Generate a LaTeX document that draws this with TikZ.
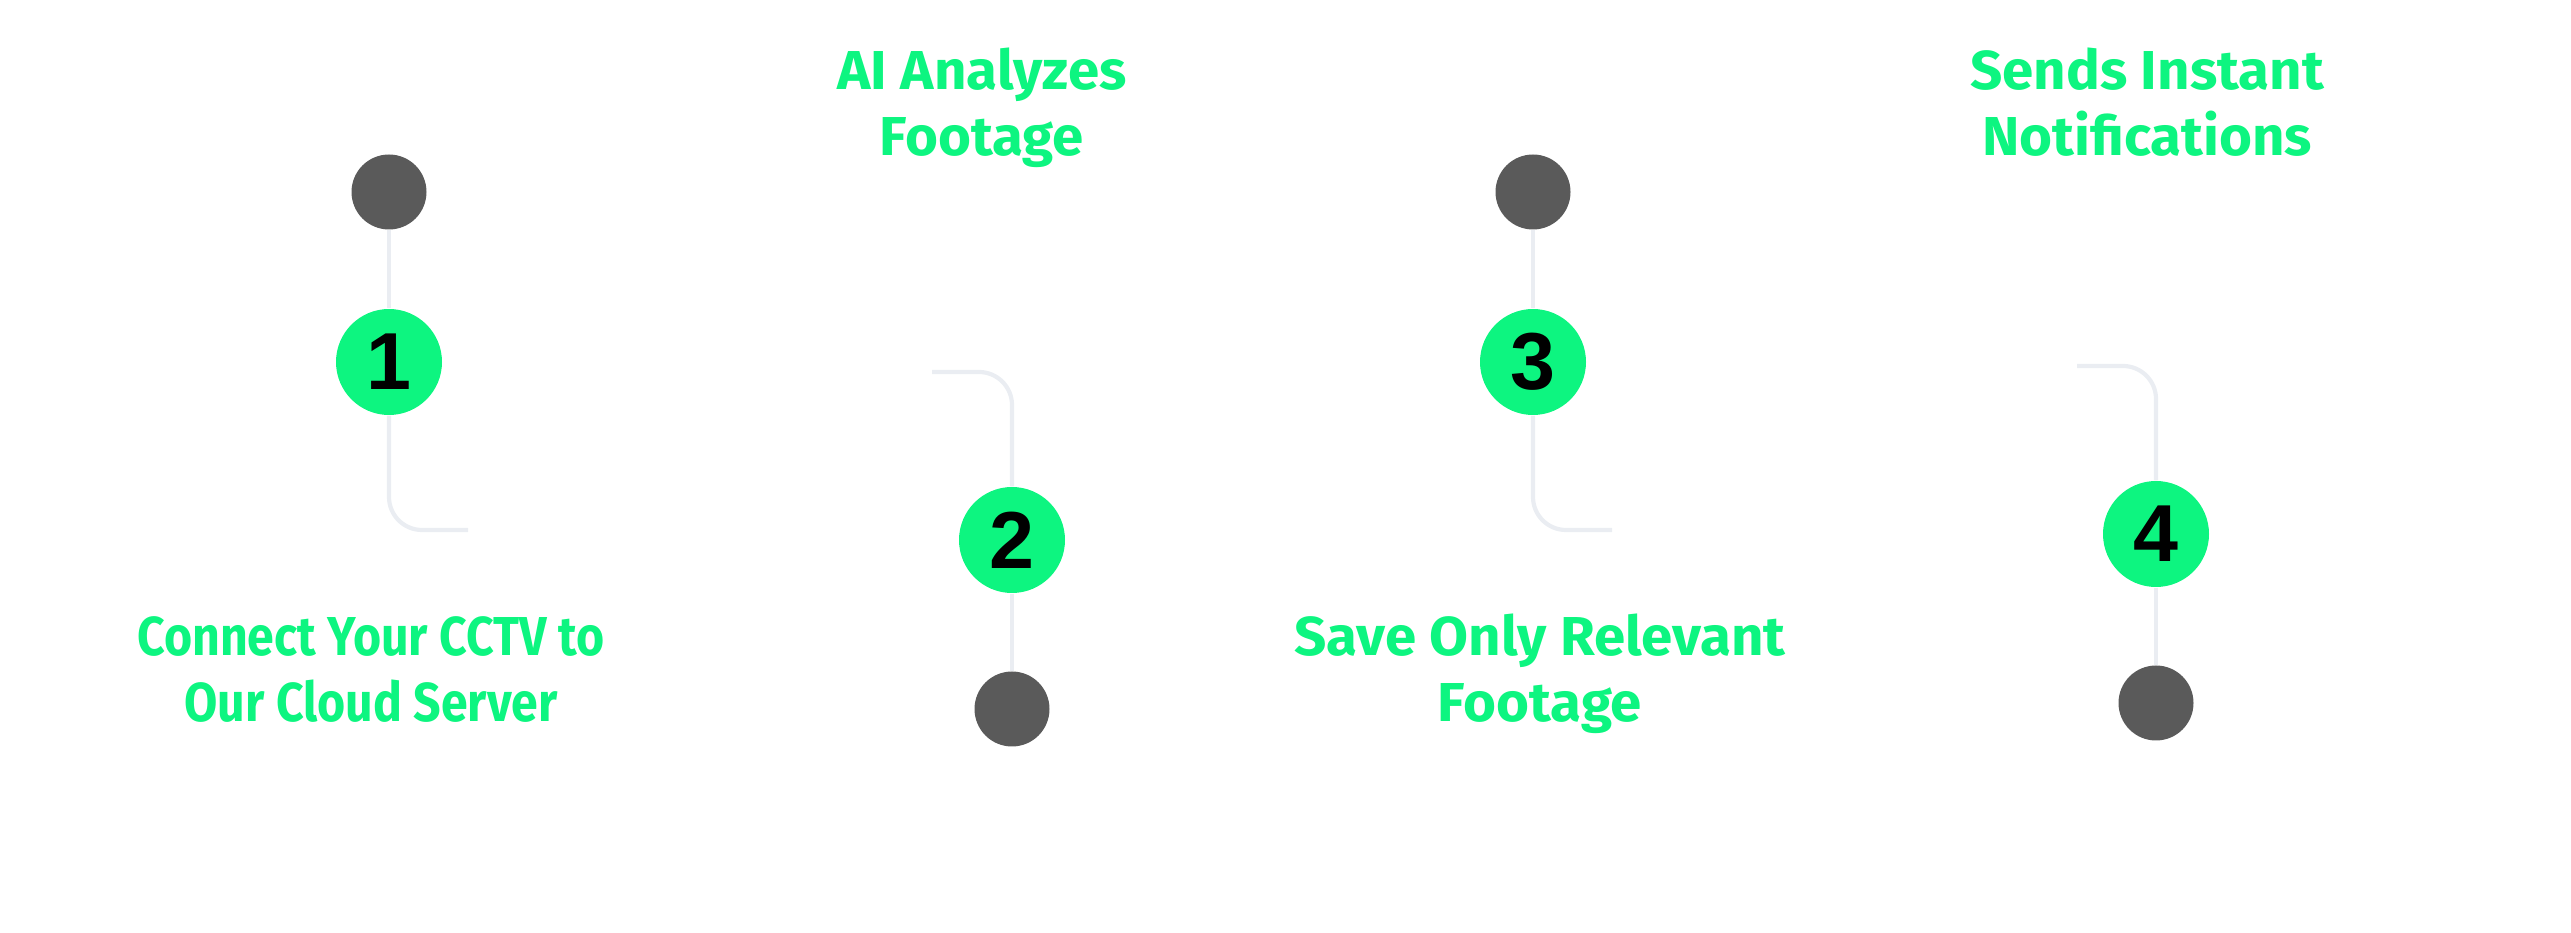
\documentclass[tikz,border=0pt]{standalone}
\usepackage{fontspec}
\setmainfont{Fira Sans}
\newfontfamily\labfont[FakeStretch=1.03]{Fira Sans}
\newfontfamily\narrowfont[FakeStretch=0.88]{Fira Sans}
\newfontfamily\numfont{Liberation Sans}
\usepackage{xcolor}
\definecolor{stepgreen}{HTML}{0DF580}
\definecolor{dotgray}{HTML}{5A5A5A}
\definecolor{trackgray}{HTML}{EAEDF2}

\begin{document}
\begin{tikzpicture}[
    dot/.style={circle,fill=dotgray,minimum size=0.75cm,inner sep=0pt},
    num/.style={circle,fill=stepgreen,minimum size=1.06cm,inner sep=0pt,
      font=\numfont\bfseries\fontsize{23}{23}\selectfont},
    track/.style={draw=trackgray,line width=1.2pt,rounded corners=0.33cm},
    lab/.style={align=center,anchor=base,text=stepgreen,
      font=\labfont\bfseries\fontsize{15.6}{18.8}\selectfont},
    narrowlab/.style={lab,font=\narrowfont\bfseries\fontsize{15.6}{18.8}\selectfont}]
   \useasboundingbox (0,0) rectangle (25.71,9.32);
   % step one
   \node[dot](dot1) at (3.89,7.40) {};
   \node[num](num1) at (3.89,5.70) {1};
   \coordinate (end1) at (4.68,4.02);
   \draw[track] (dot1) -- (num1);
   \draw[track] (num1.south) |- (end1);
   \node[narrowlab](lab1) at (3.71,2.10) {Connect Your CCTV to\\Our Cloud Server};
   % step two
   \coordinate (start2) at (9.32,5.60);
   \node[num](num2) at (10.12,3.92) {2};
   \node[dot](dot2) at (10.12,2.23) {};
   \draw[track] (start2) -| (num2.north);
   \draw[track] (num2) -- (dot2);
   \node[lab](lab2) at (9.82,7.76) {AI Analyzes\\Footage};
   % step three
   \node[dot](dot3) at (15.33,7.40) {};
   \node[num](num3) at (15.33,5.70) {3};
   \coordinate (end3) at (16.12,4.02);
   \draw[track] (dot3) -- (num3);
   \draw[track] (num3.south) |- (end3);
   \node[lab](lab3) at (15.40,2.10) {Save Only Relevant\\Footage};
   % step four
   \coordinate (start4) at (20.77,5.66);
   \node[num](num4) at (21.56,3.98) {4};
   \node[dot](dot4) at (21.56,2.29) {};
   \draw[track] (start4) -| (num4.north);
   \draw[track] (num4) -- (dot4);
   \node[lab](lab4) at (21.47,7.76) {Sends Instant\\Notifications};
\end{tikzpicture}
\end{document}
